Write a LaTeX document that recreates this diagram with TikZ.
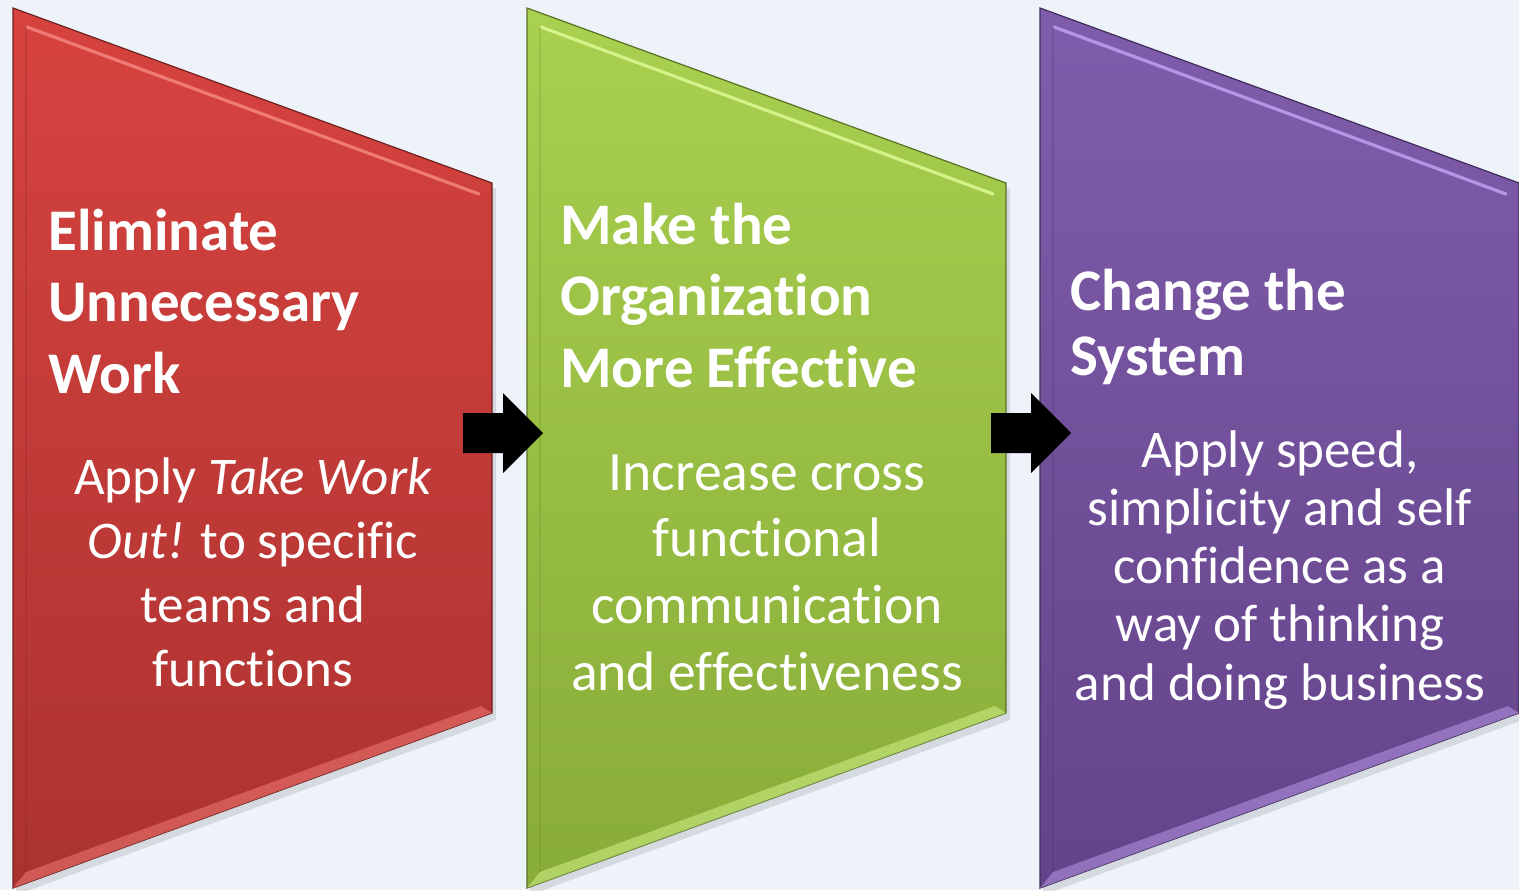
\documentclass[tikz,border=0pt]{standalone}
\usepackage{fontspec}
\setmainfont{Carlito}[Ligatures=NoCommon]
\usepackage{tikz}
\usetikzlibrary{calc}
\definecolor{canvas}{HTML}{EEF3FA}
\definecolor{redtop}{HTML}{D7433F}
\definecolor{redbot}{HTML}{AB3230}
\definecolor{redhi}{HTML}{F07A74}
\definecolor{greentop}{HTML}{A9D04F}
\definecolor{greenbot}{HTML}{88AC38}
\definecolor{greenhi}{HTML}{D2F28A}
\definecolor{violettop}{HTML}{805DAC}
\definecolor{violetbot}{HTML}{634389}
\definecolor{violethi}{HTML}{B795E6}

\newcommand{\stagearrow}[1]{%
  \fill[black] ($(#1)+(0,-20)$) -- ++(40,0) -- ++(0,-20) -- ++(40,40)
    -- ++(-40,40) -- ++(0,-20) -- ++(-40,0) -- cycle;}

\begin{document}
\begin{tikzpicture}[x=0.5pt, y=-0.5pt,
  stage/.style={top color=#1top, bottom color=#1bot, draw=#1bot!65!black, line width=0.6pt},
  title/.style={text=white, font=\bfseries\fontsize{29.5}{35.75}\selectfont,
    align=left, anchor=base west, inner sep=0pt},
  body/.style={text=white, font=\fontsize{26.5}{32}\selectfont,
    align=center, anchor=base, inner sep=0pt}]
  \useasboundingbox (0,0) rectangle (1519,890);
  \fill[canvas] (0,0) rectangle (1519,890);
  % Stages
  \foreach \col/\x in {red/13, green/527, violet/1040} {
    \fill[black, opacity=0.10] (\x+3,13) -- (\x+483,189) -- (\x+483,720) -- (\x+3,895) -- cycle;
    \draw[stage=\col] (\x,8) -- (\x+479,183) -- (\x+479,713) -- (\x,888) -- cycle;
    \fill[\col hi, opacity=0.55] (\x,888) -- (\x+479,713) -- (\x+468,706) -- (\x+13,872) -- cycle;
    \draw[\col hi, line width=1.6pt, line cap=round] (\x+14,27) -- (\x+466,194);
    \draw[\col bot!80!black, opacity=0.25, line width=1pt] (\x+13,27) -- (\x+13,872);
  }
  \coordinate (red-e) at (492,433);
  \coordinate (green-e) at (1006,433);
  % Arrows
  \stagearrow{$(red-e)+(-29,0)$}
  \stagearrow{$(green-e)+(-15,0)$}
  % Texts (anchored on the last line)
  \node[title] (red-title) at (48,393) {Eliminate\\Unnecessary\\Work};
  \node[body] (red-body) at (253,686) {Apply \textit{Take Work}\\\textit{Out!} to specific\\teams and\\functions};
  \node[title] (green-title) at (560,387) {Make the\\Organization\\More Effective};
  \node[body, font=\fontsize{27.8}{33.3}\selectfont] (green-body) at (767,690)
    {Increase cross\\functional\\communication\\and effectiveness};
  \node[title, font=\bfseries\fontsize{29.5}{32.5}\selectfont] (violet-title) at (1070,375) {Change the\\System};
  \node[body, font=\fontsize{26.5}{29.1}\selectfont] (violet-body) at (1280,700)
    {Apply speed,\\simplicity and self\\confidence as a\\way of thinking\\and doing business};
\end{tikzpicture}
\end{document}
